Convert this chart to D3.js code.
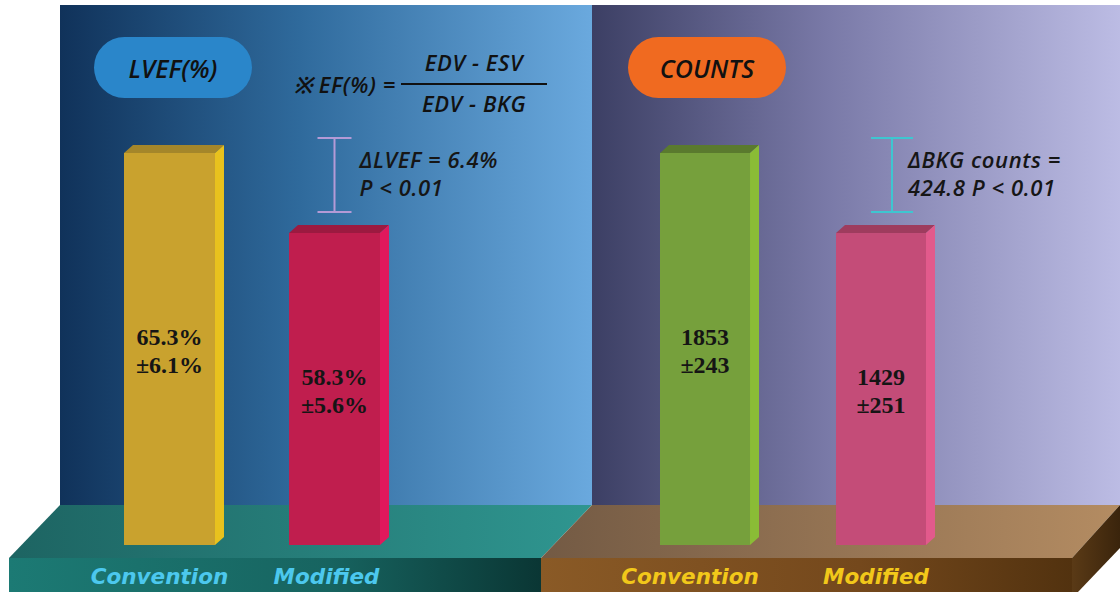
<!DOCTYPE html>
<html>
<head>
<meta charset="utf-8">
<script src="https://cdn.jsdelivr.net/npm/d3@7"></script>
<style>
  html, body { margin: 0; padding: 0; background: #fff; }
  svg { display: block; }
</style>
</head>
<body>
<svg id="chart" width="1120" height="595"></svg>
<script>
// data
const groups = ['Convention', 'Modified'];
const panelTitles = ['LVEF(%)', 'COUNTS'];
const lvefMeans = [65.3, 58.3];
const lvefSD = [6.1, 5.6];
const countMeans = [1853, 1429];
const countSD = [243, 251];
const deltaNotes = [['ΔLVEF = 6.4%', 'P < 0.01'], ['ΔBKG counts =', '424.8 P < 0.01']];

const W = 1120, H = 595;
const svg = d3.select('#chart');
const defs = svg.append('defs');

function linGrad(id, stops, x1, y1, x2, y2) {
    const g = defs.append('linearGradient').attr('id', id)
        .attr('x1', x1).attr('y1', y1).attr('x2', x2).attr('y2', y2);
    stops.forEach(s => g.append('stop').attr('offset', s[0]).attr('stop-color', s[1]));
}
linGrad('bgL', [[0, '#10325a'], [0.45, '#2f6a9c'], [1, '#6aa9de']], 0, 0, 1, 0);
linGrad('bgR', [[0, '#3c3f64'], [0.45, '#7a7aa8'], [1, '#bcbce4']], 0, 0, 1, 0);
linGrad('tealTop', [[0, '#1d6462'], [1, '#2f9690']], 0, 0, 1, 0);
linGrad('tealFront', [[0, '#1c7a74'], [0.6, '#176460'], [1, '#0a3634']], 0, 0, 1, 0);
linGrad('brownTop', [[0, '#735a44'], [1, '#b48c62']], 0, 0, 1, 0);
linGrad('brownFront', [[0, '#8a5a26'], [0.6, '#74481c'], [1, '#52320f']], 0, 0, 1, 0);
linGrad('brownSide', [[0, '#5a3a16'], [1, '#3a240c']], 0, 0, 1, 0);

// layout
const panelTop = 5, floorBack = 505, floorFront = 558, floorBottom = 592, split = 592;
const base = 545, barTop = 153;
const dx = 9, dy = 8;
const noteFont = '"Open Sans", sans-serif';

// backgrounds
svg.append('rect').attr('x', 60).attr('y', panelTop).attr('width', split - 60).attr('height', floorBack - panelTop).attr('fill', 'url(#bgL)');
svg.append('rect').attr('x', split).attr('y', panelTop).attr('width', W - split).attr('height', floorBack - panelTop).attr('fill', 'url(#bgR)');

// platforms
const poly = pts => pts.map(p => p.join(',')).join(' ');
svg.append('polygon').attr('points', poly([[60, floorBack], [split, floorBack], [541, floorFront], [9, floorFront]])).attr('fill', 'url(#tealTop)');
svg.append('polygon').attr('points', poly([[9, floorFront], [541, floorFront], [541, floorBottom], [9, floorBottom]])).attr('fill', 'url(#tealFront)');
svg.append('polygon').attr('points', poly([[split, floorBack], [W, floorBack], [1072, floorFront], [541, floorFront]])).attr('fill', 'url(#brownTop)');
svg.append('polygon').attr('points', poly([[541, floorFront], [1072, floorFront], [1072, floorBottom], [541, floorBottom]])).attr('fill', 'url(#brownFront)');
svg.append('polygon').attr('points', poly([[1072, floorFront], [W, floorBack], [W, 548], [1078, floorBottom], [1072, floorBottom]])).attr('fill', 'url(#brownSide)');

// scales
const xL = d3.scaleBand().domain(groups).range([124, 380]).paddingInner(0.4485).paddingOuter(0);
const xR = d3.scaleBand().domain(groups).range([660, 926]).paddingInner(0.4886).paddingOuter(0);
const yL = d3.scaleLinear().domain([31, 65.3]).range([base, barTop]);
const yR = d3.scaleLinear().domain([-224, 1853]).range([base, barTop]);

const panels = [
    { x: xL, y: yL, means: lvefMeans, sds: lvefSD, fmt: v => v.toFixed(1) + '%',
      colors: [['#c9a22e', '#a4862a', '#e8c21e'], ['#c01e4e', '#9c1a40', '#e0185c']],
      bracket: '#b49ad6', capHalf: 17, bxOff: 0, txOff: 25, labelFill: '#4cc8ee', labelOff: [-10, -8] },
    { x: xR, y: yR, means: countMeans, sds: countSD, fmt: v => String(v),
      colors: [['#76a03c', '#5a7a2e', '#8abc36'], ['#c44c78', '#9e3c5e', '#e25a8c']],
      bracket: '#3ec6d0', capHalf: 21, bxOff: 11, txOff: 16, labelFill: '#f2c81a', labelOff: [-15, -5] }
];

panels.forEach((p, pi) => {
    const bw = p.x.bandwidth();
    const g = svg.append('g');
    const bars = g.selectAll('g.bar').data(groups).join('g').attr('class', 'bar');
    bars.each(function(d, i) {
        const sel = d3.select(this);
        const x0 = p.x(d), y0 = p.y(p.means[i]), c = p.colors[i];
        sel.append('rect').attr('x', x0).attr('y', y0).attr('width', bw).attr('height', base - y0).attr('fill', c[0]);
        sel.append('polygon').attr('points', poly([[x0, y0], [x0 + dx, y0 - dy], [x0 + bw + dx, y0 - dy], [x0 + bw, y0]])).attr('fill', c[1]);
        sel.append('polygon').attr('points', poly([[x0 + bw, y0], [x0 + bw + dx, y0 - dy], [x0 + bw + dx, base - dy], [x0 + bw, base]])).attr('fill', c[2]);
        const mid = (y0 + base) / 2 + 2;
        const t = sel.append('text')
            .attr('text-anchor', 'middle')
            .attr('font-family', '"Liberation Serif", "Times New Roman", serif')
            .attr('font-weight', 'bold').attr('font-size', 24).attr('fill', '#151515');
        t.append('tspan').attr('x', x0 + bw / 2).attr('y', mid - 6).text(p.fmt(p.means[i]));
        t.append('tspan').attr('x', x0 + bw / 2).attr('y', mid + 22).text('±' + p.fmt(p.sds[i]));
        // platform labels
        g.append('text')
            .attr('x', x0 + bw / 2 + p.labelOff[i]).attr('y', 584)
            .attr('text-anchor', 'middle')
            .attr('font-family', '"DejaVu Sans", sans-serif')
            .attr('font-weight', 'bold').attr('font-style', 'italic')
            .attr('font-size', 21.5).attr('fill', p.labelFill)
            .text(d);
    });

    // difference bracket
    const bx = p.x(groups[1]) + bw / 2 + p.bxOff;
    const yTop = p.y(p.means[0]) - 15, yBot = p.y(p.means[1]) - 21;
    const br = g.append('g').attr('stroke', p.bracket).attr('stroke-width', 2);
    br.append('line').attr('x1', bx).attr('x2', bx).attr('y1', yTop).attr('y2', yBot);
    br.append('line').attr('x1', bx - p.capHalf).attr('x2', bx + p.capHalf).attr('y1', yTop).attr('y2', yTop);
    br.append('line').attr('x1', bx - p.capHalf).attr('x2', bx + p.capHalf).attr('y1', yBot).attr('y2', yBot);
    const nt = g.append('text')
        .attr('font-family', noteFont).attr('font-style', 'italic').attr('font-weight', 600)
        .attr('font-size', 22).attr('letter-spacing', 0.6).attr('fill', '#161616');
    nt.append('tspan').attr('x', bx + p.txOff).attr('y', yTop + 30).text(deltaNotes[pi][0]);
    nt.append('tspan').attr('x', bx + p.txOff).attr('y', yTop + 58).text(deltaNotes[pi][1]);
});

// title pills
const pills = [
    { cx: 173, fill: '#2a86ca' },
    { cx: 707, fill: '#f06a20' }
];
pills.forEach((pl, i) => {
    svg.append('rect').attr('x', pl.cx - 79).attr('y', 37).attr('width', 158).attr('height', 61)
        .attr('rx', 30.5).attr('fill', pl.fill);
    svg.append('text').attr('x', pl.cx).attr('y', 78)
        .attr('text-anchor', 'middle')
        .attr('font-family', noteFont).attr('font-style', 'italic').attr('font-weight', 600)
        .attr('font-size', 25).attr('fill', '#111')
        .text(panelTitles[i]);
});

// formula
const fx = svg.append('g').attr('font-family', noteFont).attr('font-style', 'italic').attr('font-weight', 600)
    .attr('font-size', 22).attr('letter-spacing', 0.6).attr('fill', '#111');
fx.append('text').attr('x', 396).attr('y', 93).attr('text-anchor', 'end').text('※ EF(%) =');
fx.append('text').attr('x', 474).attr('y', 71).attr('text-anchor', 'middle').text('EDV - ESV');
fx.append('text').attr('x', 474).attr('y', 112).attr('text-anchor', 'middle').text('EDV - BKG');
svg.append('line').attr('x1', 401).attr('x2', 547).attr('y1', 84).attr('y2', 84)
    .attr('stroke', '#111').attr('stroke-width', 2);
</script>
</body>
</html>
